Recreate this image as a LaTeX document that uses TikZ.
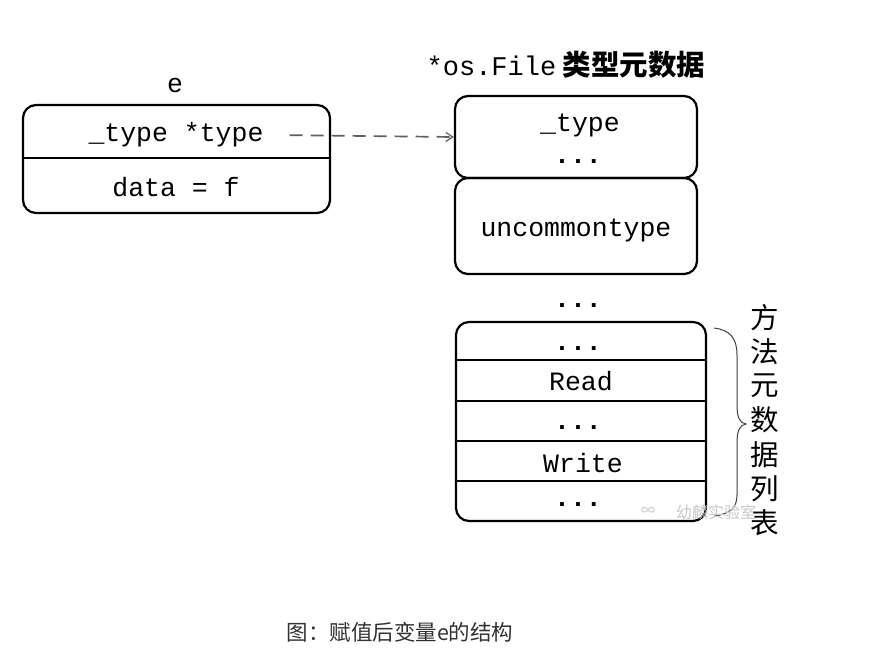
\documentclass[tikz,border=0pt]{standalone}
\usepackage{fontspec}
\newfontfamily\cour{Liberation Mono}
\newfontfamily\cjk{Noto Sans CJK SC}
\usetikzlibrary{arrows.meta}
\definecolor{capgray}{RGB}{50,50,50}
\definecolor{arrgray}{RGB}{95,95,95}
\definecolor{wmgray}{RGB}{200,200,200}
\tikzset{
  box/.style={draw=black, line width=2.2pt, rounded corners=13pt, inner sep=0pt},
  divider/.style={draw=black, line width=1.2pt},
  mono/.style={font=\cour\fontsize{26.5}{26.5}\selectfont, inner sep=0pt, anchor=base},
  dots/.style={font=\cour\bfseries\fontsize{26.5}{26.5}\selectfont, inner sep=0pt, anchor=base},
  vch/.style={font=\cjk\fontsize{28.5}{28.5}\selectfont, inner sep=0pt},
}
\begin{document}
\begin{tikzpicture}[x=1pt,y=-1pt]
\useasboundingbox[fill=white] (0,0) rectangle (871,654);
% left box e
\node[box, minimum width=307pt, minimum height=108pt] (e) at (176.5,159) {};
\draw[divider] (e.west |- 0,158) -- (e.east |- 0,158);
\node[mono] (elab) at (175,92) {e};
\node[mono] (ptr) at (176,141) {\_type *type};
\node[mono] (dat) at (176,196) {data = f};
% right column
\node[font=\cjk\bfseries\fontsize{28.5}{28.5}\selectfont, inner sep=0pt, anchor=base] (title) at (566,75) {{\cour\mdseries\fontsize{27}{27}\selectfont *os.File} 类型元数据};
\node[box, minimum width=242pt, minimum height=82pt] (b1) at (576,137) {};
\node[box, minimum width=242pt, minimum height=96pt] (b2) at (576,226) {};
\node[mono] (b1t) at (580,131) {\_type};
\node[dots] (b1d) at (578,163) {...};
\node[mono] (b2t) at (576,236) {uncommontype};
\node[dots] (gapd) at (578,307) {...};
\node[box, minimum width=250pt, minimum height=199pt] (b3) at (581,421.5) {};
\foreach \yy in {360,401,441,481}
  \draw[divider] (b3.west |- 0,\yy) -- (b3.east |- 0,\yy);
\node[dots] (m1) at (578,350) {...};
\node[mono] (m2) at (581,390) {Read};
\node[dots] (m3) at (578,429) {...};
\node[mono] (m4) at (583,472) {Write};
\node[dots] (m5) at (578,506) {...};
% arrow
\draw[arrgray, line width=1.7pt, dash pattern=on 13pt off 8pt, -{Straight Barb[length=7pt,width=9pt,line width=1.2pt]}] ([xshift=26pt,yshift=-1pt]ptr.east) -- (b1.west);
% brace
\draw[black!75, line width=1pt] (714,328) .. controls (730,330) and (737,338) .. (737,355) -- (737,405) .. controls (737,418) and (740,423) .. (746,424) .. controls (740,425) and (737,430) .. (737,443) -- (737,495) .. controls (737,508) and (730,514) .. (714,516);
% vertical label
\node[vch] (v1) at (765,318) {方};
\node[vch] (v2) at (765,352) {法};
\node[vch] (v3) at (765,386) {元};
\node[vch] (v4) at (765,420) {数};
\node[vch] (v5) at (765,455) {据};
\node[vch] (v6) at (765,489) {列};
\node[vch] (v7) at (765,523) {表};
% watermark
\node[font=\cjk\fontsize{16}{16}\selectfont, text=wmgray, inner sep=0pt] (wm) at (716,512) {幼麟实验室};
\node[font=\cjk\fontsize{14}{14}\selectfont, text=wmgray, inner sep=0pt] (wmi) at (648,511) {∞};
% caption
\node[font=\cjk\fontsize{21.5}{21.5}\selectfont, text=capgray, inner sep=0pt] (cap) at (400,632) {图：赋值后变量e的结构};
\end{tikzpicture}
\end{document}
